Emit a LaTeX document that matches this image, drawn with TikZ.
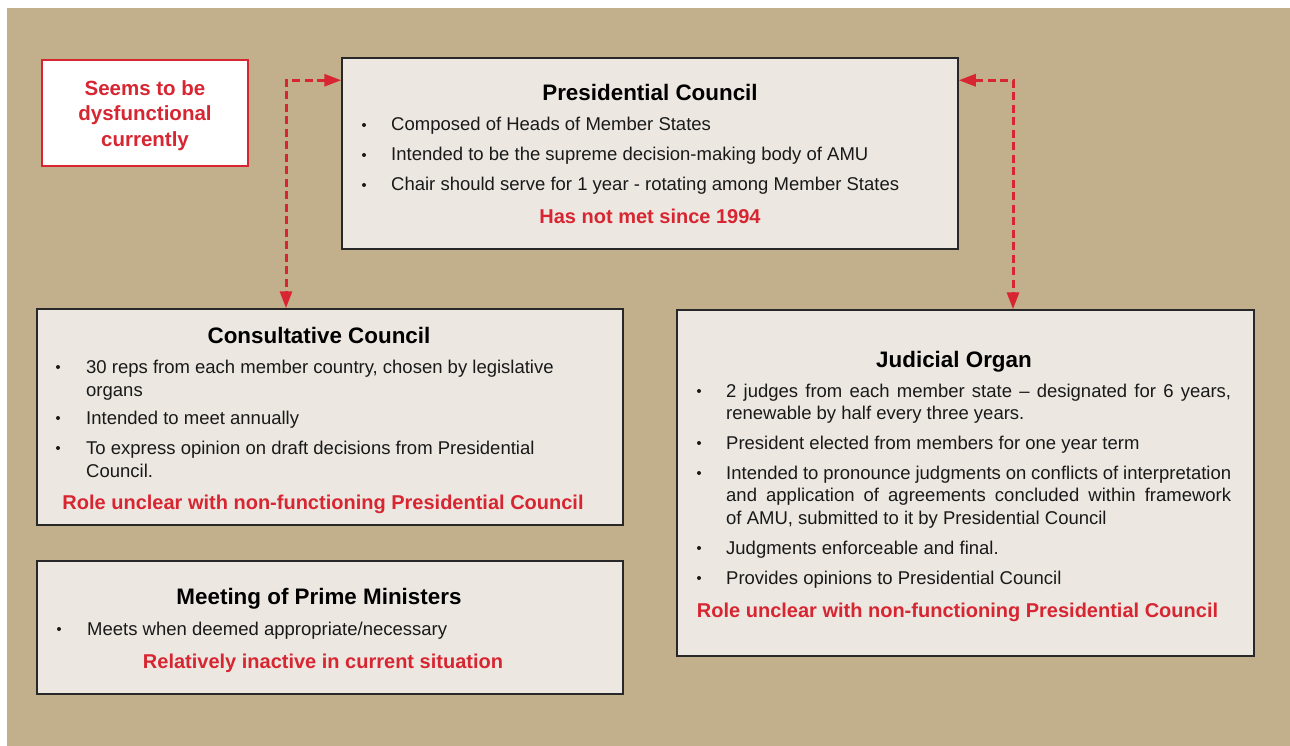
\documentclass[tikz,border=0pt]{standalone}
\usepackage{fontspec}
\setmainfont{Liberation Sans}
\usetikzlibrary{arrows.meta,calc}

\definecolor{bgtan}{RGB}{194,176,140}
\definecolor{boxfill}{RGB}{236,232,225}
\definecolor{alert}{RGB}{215,38,50}
\definecolor{edge}{RGB}{40,40,40}
\definecolor{ink}{RGB}{25,25,25}

\tikzset{
  panel/.style={rectangle, draw=edge, line width=1.5pt, fill=boxfill, inner sep=0pt},
  flag/.style={rectangle, draw=alert, line width=2pt, fill=white, inner sep=0pt},
  heading/.style={font=\bfseries\fontsize{22.4}{26}\selectfont, text=black, anchor=base, inner sep=0pt},
  item/.style={font=\fontsize{18.5}{22}\selectfont, text=ink, anchor=base west, inner sep=0pt},
  verdict/.style={font=\bfseries\fontsize{20}{24}\selectfont, text=alert, anchor=base, inner sep=0pt},
  bullet/.style={circle, fill=ink, inner sep=0pt, minimum size=4pt},
  link/.style={draw=alert, line width=3pt, dash pattern=on 8pt off 4.5pt,
    {Triangle[length=17pt,width=12pt]}-{Triangle[length=17pt,width=12pt]}}
}

\begin{document}
\begin{tikzpicture}[x=1pt,y=-1pt]
  % page and backdrop
  \fill[white] (0,0) rectangle (1290,746);
  \fill[bgtan] (7,8) rectangle (1290,746);
  \useasboundingbox (0,0) rectangle (1290,746);

  % panels
  \node[flag,  minimum width=206pt, minimum height=106pt] (flag) at (145,113) {};
  \node[panel, minimum width=616pt, minimum height=191pt] (pc) at (650,153.5) {};
  \node[panel, minimum width=586pt, minimum height=216pt] (cc) at (330,417) {};
  \node[panel, minimum width=586pt, minimum height=133pt] (pm) at (330,627.5) {};
  \node[panel, minimum width=577pt, minimum height=346pt] (jo) at (965.5,483) {};

  % dashed links from the Presidential Council
  \coordinate (kl) at (286,0);
  \coordinate (kr) at (1013,0);
  \draw[link] ($(pc.north west)+(0,23)$) -| (kl |- cc.north);
  \draw[link] ($(pc.north east)+(0,23)$) -| (kr |- jo.north);

  % status flag
  \node[verdict, font=\bfseries\fontsize{20.5}{24}\selectfont] (flag1) at (145,96) {Seems to be};
  \node[verdict, font=\bfseries\fontsize{20.5}{24}\selectfont] (flag2) at (145,121) {dysfunctional};
  \node[verdict, font=\bfseries\fontsize{20.5}{24}\selectfont] (flag3) at (145,147) {currently};

  % Presidential Council
  \node[heading] (pct) at (650,101) {Presidential Council};
  \node[bullet] (pcb1) at (364,125) {};
  \node[item] (pci1) at (391,131) {Composed of Heads of Member States};
  \node[bullet] (pcb2) at (364,155) {};
  \node[item] (pci2) at (391,161) {Intended to be the supreme decision-making body of AMU};
  \node[bullet] (pcb3) at (364,185) {};
  \node[item] (pci3) at (391,191) {Chair should serve for 1 year - rotating among Member States};
  \node[verdict] (pcv) at (650,224) {Has not met since 1994};

  % Consultative Council
  \node[heading] (cct) at (319,343) {Consultative Council};
  \node[bullet] (ccb1) at (58,367) {};
  \node[item] (cci1) at (86,373) {30 reps from each member country, chosen by legislative};
  \node[item] (cci1b) at (86,396) {organs};
  \node[bullet] (ccb2) at (58,418) {};
  \node[item] (cci2) at (86,424) {Intended to meet annually};
  \node[bullet] (ccb3) at (58,448) {};
  \node[item] (cci3) at (86,454) {To express opinion on draft decisions from Presidential};
  \node[item] (cci3b) at (86,477) {Council.};
  \node[verdict] (ccv) at (323,509) {Role unclear with non-functioning Presidential Council};

  % Meeting of Prime Ministers
  \node[heading] (pmt) at (319,604) {Meeting of Prime Ministers};
  \node[bullet] (pmb1) at (59,629) {};
  \node[item] (pmi1) at (87,635) {Meets when deemed appropriate/necessary};
  \node[verdict] (pmv) at (323,668) {Relatively inactive in current situation};

  % Judicial Organ
  \node[heading] (jot) at (954,367) {Judicial Organ};
  \node[bullet] (job1) at (699,391) {};
  \node[item] (joi1) at (726,397) {\makebox[505pt][s]{2 judges from each member state – designated for 6 years,}};
  \node[item] (joi1b) at (726,419) {renewable by half every three years.};
  \node[bullet] (job2) at (699,443) {};
  \node[item] (joi2) at (726,449) {President elected from members for one year term};
  \node[bullet] (job3) at (699,473) {};
  \node[item] (joi3) at (726,479) {\makebox[505pt][s]{Intended to pronounce judgments on conflicts of interpretation}};
  \node[item] (joi3b) at (726,501) {\makebox[505pt][s]{and application of agreements concluded within framework}};
  \node[item] (joi3c) at (726,524) {of AMU, submitted to it by Presidential Council};
  \node[bullet] (job4) at (699,548) {};
  \node[item] (joi4) at (726,554) {Judgments enforceable and final.};
  \node[bullet] (job5) at (699,578) {};
  \node[item] (joi5) at (726,584) {Provides opinions to Presidential Council};
  \node[verdict] (jov) at (957.5,617) {Role unclear with non-functioning Presidential Council};
\end{tikzpicture}
\end{document}
